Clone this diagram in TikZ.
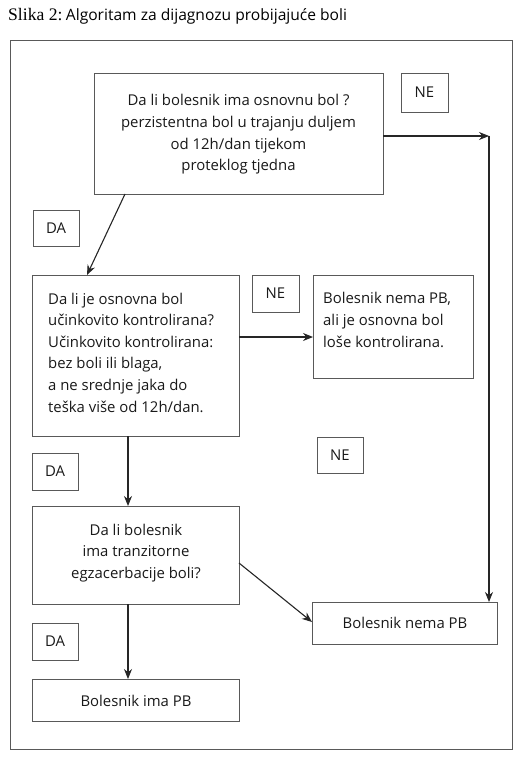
\documentclass[tikz,border=0pt]{standalone}
\usepackage{fontspec}
\setmainfont{Open Sans}
\newfontfamily\serifttl{Liberation Serif}
\usetikzlibrary{arrows.meta}
\begin{document}
\begin{tikzpicture}[x=1pt,y=-1pt,
  frame/.style={draw=black!65, line width=0.8pt},
  txt/.style={inner sep=0pt, text=black!90, font=\fontsize{14.9}{21.6}\selectfont},
  conn/.style={draw=black!85, line width=1.1pt, -{Stealth[length=10pt,width=8pt]}}]
\useasboundingbox (0,0) rectangle (521,759);
% title
\node[anchor=base west, inner sep=0pt] (title) at (8,21)
  {{\serifttl\fontsize{17.6}{20}\selectfont Slika 2:} \fontsize{15.6}{18}\selectfont Algoritam za dijagnozu probijajuće boli};
% outer frame
\draw[frame] (10,40) rectangle (512,749);
% boxes
\draw[frame] (94,73) rectangle (383,194);
\coordinate (b1ne) at (383,136);
\coordinate (b1s) at (125,194);
\node[txt, align=center] (t1) at (238.5,134.5) {Da li bolesnik ima osnovnu bol ?\\perzistentna bol u trajanju duljem\\od 12h/dan tijekom\\proteklog tjedna};

\draw[frame] (32,275) rectangle (239,436);
\node[txt, align=left, anchor=west] (t2) at (48,352.5) {Da li je osnovna bol\\učinkovito kontrolirana?\\Učinkovito kontrolirana:\\bez boli ili blaga,\\a ne srednje jaka do\\teška više od 12h/dan.};

\draw[frame] (313,275) rectangle (473,378);
\node[txt, align=left, anchor=west] (t3) at (323,320) {Bolesnik nema PB,\\ali je osnovna bol\\loše kontrolirana.};

\draw[frame] (32,506) rectangle (239,604);
\node[txt, align=center] (t4) at (136,553) {Da li bolesnik\\ima tranzitorne\\egzacerbacije boli?};

\draw[frame] (312,602) rectangle (497,644);
\node[txt] (t5) at (405,623) {Bolesnik nema PB};

\draw[frame] (32,679) rectangle (239,721);
\node[txt] (t6) at (136,701) {Bolesnik ima PB};

% labels
\draw[frame] (401,73) rectangle (448,112); \node[txt] (ne1) at (424.5,92.5) {NE};
\draw[frame] (33,210) rectangle (79,246); \node[txt] (da1) at (56,228) {DA};
\draw[frame] (252,275) rectangle (299,312); \node[txt] (ne2) at (275.5,293.5) {NE};
\draw[frame] (317,437) rectangle (363,473); \node[txt] (ne3) at (340,455) {NE};
\draw[frame] (32,453) rectangle (78,490); \node[txt] (da2) at (55,471.5) {DA};
\draw[frame] (32,623) rectangle (78,660); \node[txt] (da3) at (55,641.5) {DA};

% connectors
\coordinate (c1) at (489,136);
\coordinate (b2n) at (87,275);
\coordinate (b2e) at (239,337);
\coordinate (b3w) at (313,337);
\coordinate (b2s) at (128,436);
\coordinate (b4n) at (128,506);
\coordinate (b4e) at (239,563);
\coordinate (b5w) at (312,622);
\coordinate (b5n) at (489,602);
\coordinate (b4s) at (128,604);
\coordinate (b6n) at (128,679);
\draw[conn] (b1ne) -- (c1);
\draw[conn] (c1) -- (b5n);
\draw[conn] (b1s) -- (b2n);
\draw[conn] (b2e) -- (b3w);
\draw[conn] (b2s) -- (b4n);
\draw[conn] (b4e) -- (b5w);
\draw[conn] (b4s) -- (b6n);
\end{tikzpicture}
\end{document}
